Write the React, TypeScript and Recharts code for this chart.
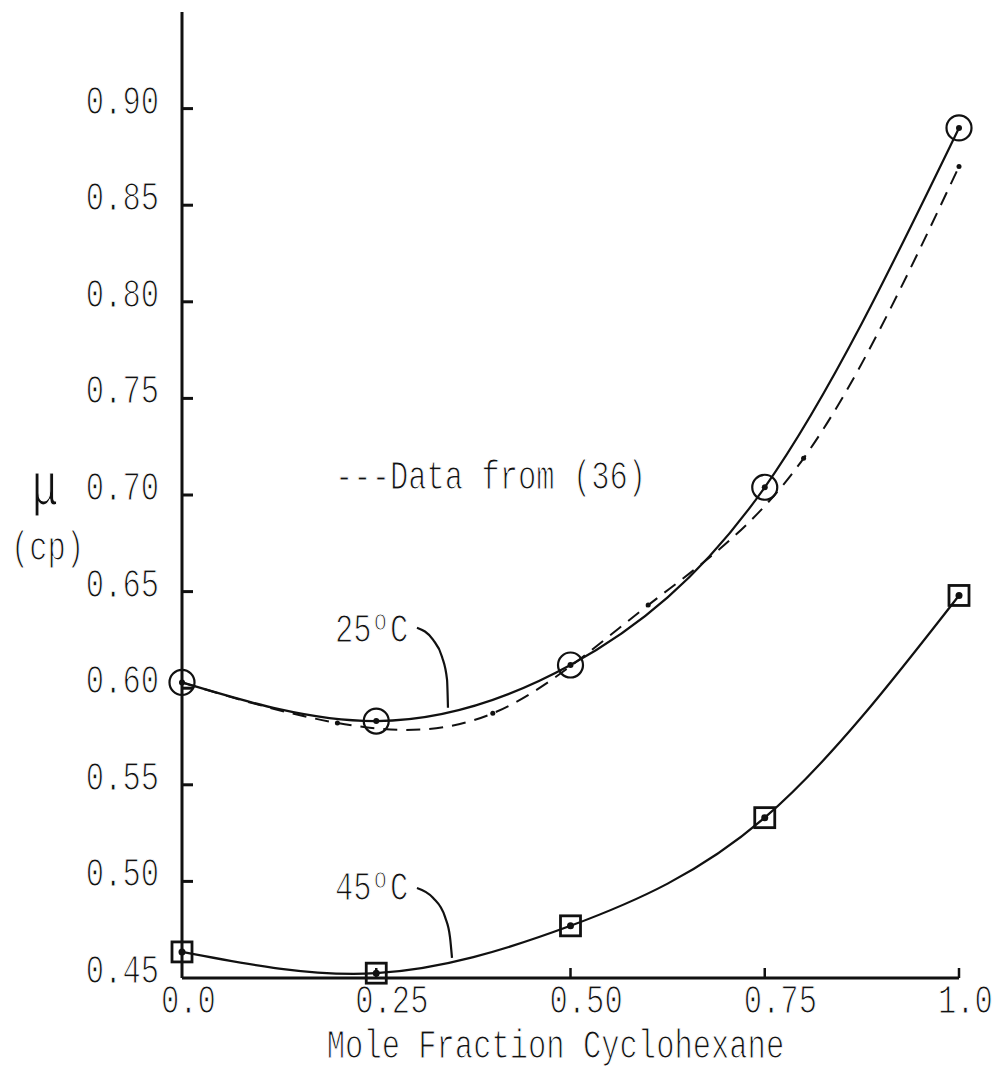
import React from "react";
import { LineChart, Line, XAxis, YAxis, ReferenceDot, Label } from "recharts";

// Measured viscosities (cp) of benzene–cyclohexane mixtures
const moleFraction = [0, 0.25, 0.5, 0.75, 1.0];
const visc25 = [0.603, 0.583, 0.612, 0.704, 0.89];
const visc45 = [0.4635, 0.4525, 0.477, 0.533, 0.648];

// Literature values at 25 °C, ref. (36)
const litFraction = [0, 0.2, 0.4, 0.6, 0.8, 1.0];
const litVisc25 = [0.603, 0.582, 0.587, 0.643, 0.719, 0.87];

// Leader curves tying the temperature labels to their curves
const lead25X = [0.3024, 0.323, 0.3346, 0.3411, 0.3423];
const lead25Y = [0.6313, 0.6251, 0.6163, 0.6044, 0.5899];
const lead45X = [0.3024, 0.323, 0.3385, 0.3449, 0.3475];
const lead45Y = [0.4966, 0.4915, 0.4816, 0.4712, 0.4604];

const xTicks = [0, 0.25, 0.5, 0.75, 1.0];
const xTickLabels = ["0.0", "0.25", "0.50", "0.75", "1.0"];
const yTicks = [0.45, 0.5, 0.55, 0.6, 0.65, 0.7, 0.75, 0.8, 0.85, 0.9];

const zip = (xs: number[], ys: number[]) => xs.map((x, i) => ({ x, y: ys[i] }));

const data25 = zip(moleFraction, visc25);
const data45 = zip(moleFraction, visc45);
const dataLit = zip(litFraction, litVisc25);
const dataLead25 = zip(lead25X, lead25Y);
const dataLead45 = zip(lead45X, lead45Y);

const FONT = "'Liberation Mono', 'DejaVu Sans Mono', monospace";
const INK = "#111";

// Typewriter-style text: a monospace face stretched vertically, strokes thinned
const TT = ({ x, y, anchor = "start", size = 30.5, children }: any) => (
  <text
    transform={`translate(${x},${y}) scale(1,1.35)`}
    textAnchor={anchor}
    fontFamily={FONT}
    fontSize={size}
    fill={INK}
    stroke="#fff"
    strokeWidth={0.9}
  >
    {children}
  </text>
);

const DegreeLabel = ({ x, y, num }: any) => (
  <text
    transform={`translate(${x},${y}) scale(1,1.35)`}
    fontFamily={FONT}
    fontSize={30.5}
    fill={INK}
    stroke="#fff"
    strokeWidth={0.9}
  >
    {num}
    <tspan fontSize={22} dx={2} dy={-9}>o</tspan>
    <tspan dx={3} dy={9}>C</tspan>
  </text>
);

const XTick = (props: any) => {
  const { x, y, payload, index } = props;
  const label = xTickLabels[xTicks.indexOf(payload.value)] ?? String(payload.value);
  return (
    <g>
      {index > 0 && <line x1={x} x2={x} y1={y} y2={y - 10} stroke={INK} strokeWidth={2.5} />}
      <TT x={x - 21} y={y + 35}>{label}</TT>
    </g>
  );
};

const YTick = (props: any) => {
  const { x, y, payload, index } = props;
  return (
    <g>
      {index > 0 && <line x1={x} x2={x + 11} y1={y} y2={y} stroke={INK} strokeWidth={3} />}
      <TT x={x - 23} y={y + 5} anchor="end">{payload.value.toFixed(2)}</TT>
    </g>
  );
};

const CircleDot = (props: any) => {
  const { cx, cy, index } = props;
  return (
    <g key={`c${index}`}>
      <circle cx={cx} cy={cy} r={12.5} fill="none" stroke={INK} strokeWidth={2.2} />
      <circle cx={cx} cy={cy} r={3} fill={INK} />
    </g>
  );
};

const SquareDot = (props: any) => {
  const { cx, cy, index } = props;
  return (
    <g key={`s${index}`}>
      <rect x={cx - 10} y={cy - 10} width={20} height={20} fill="none" stroke={INK} strokeWidth={2.8} />
      <circle cx={cx} cy={cy} r={3.5} fill={INK} />
    </g>
  );
};

const SmallDot = (props: any) => {
  const { cx, cy, index } = props;
  return <circle key={`d${index}`} cx={cx} cy={cy} r={2.5} fill={INK} />;
};

export default function App() {
  return (
    <div style={{ position: "absolute", left: 0, top: 0, background: "#fff" }}>
      <LineChart width={996} height={1070} margin={{ top: 12, right: 37, left: 0, bottom: 0 }}>
        <XAxis
          type="number"
          dataKey="x"
          domain={[0, 1]}
          ticks={xTicks}
          height={92}
          tickSize={0}
          tickMargin={0}
          tickLine={false}
          tick={<XTick />}
          axisLine={{ stroke: INK, strokeWidth: 3 }}
        >
          <Label
            content={(p: any) => {
              const vb = p.viewBox;
              return (
                <TT x={vb.x + vb.width / 2 - 15} y={vb.y + 80} anchor="middle">
                  Mole Fraction Cyclohexane
                </TT>
              );
            }}
          />
        </XAxis>
        <YAxis
          type="number"
          dataKey="y"
          domain={[0.45, 0.95]}
          ticks={yTicks}
          width={182}
          tickSize={0}
          tickMargin={0}
          tickLine={false}
          tick={<YTick />}
          axisLine={{ stroke: INK, strokeWidth: 3 }}
        >
          <Label
            content={(p: any) => {
              const vb = p.viewBox;
              return (
                <g>
                  <TT x={vb.x + 45} y={vb.y + 492} anchor="middle" size={44}>μ</TT>
                  <TT x={vb.x + 11} y={vb.y + 548}>(cp)</TT>
                </g>
              );
            }}
          />
        </YAxis>

        <Line
          data={dataLit}
          dataKey="y"
          type="natural"
          stroke={INK}
          strokeWidth={2}
          strokeDasharray="14 9"
          dot={<SmallDot />}
          isAnimationActive={false}
        />
        <Line
          data={data25}
          dataKey="y"
          type="natural"
          stroke={INK}
          strokeWidth={2.2}
          dot={<CircleDot />}
          isAnimationActive={false}
        />
        <Line
          data={data45}
          dataKey="y"
          type="natural"
          stroke={INK}
          strokeWidth={2.2}
          dot={<SquareDot />}
          isAnimationActive={false}
        />
        <Line data={dataLead25} dataKey="y" type="monotone" stroke={INK} strokeWidth={2.2} dot={false} isAnimationActive={false} />
        <Line data={dataLead45} dataKey="y" type="monotone" stroke={INK} strokeWidth={2.2} dot={false} isAnimationActive={false} />

        <ReferenceDot
          x={0.197}
          y={0.624}
          r={0}
          shape={(p: any) => <DegreeLabel x={p.cx} y={p.cy} num="25" />}
        />
        <ReferenceDot
          x={0.197}
          y={0.4904}
          r={0}
          shape={(p: any) => <DegreeLabel x={p.cx} y={p.cy} num="45" />}
        />
        <ReferenceDot
          x={0.197}
          y={0.703}
          r={0}
          shape={(p: any) => <TT x={p.cx} y={p.cy}>---Data from (36)</TT>}
        />
      </LineChart>
    </div>
  );
}
